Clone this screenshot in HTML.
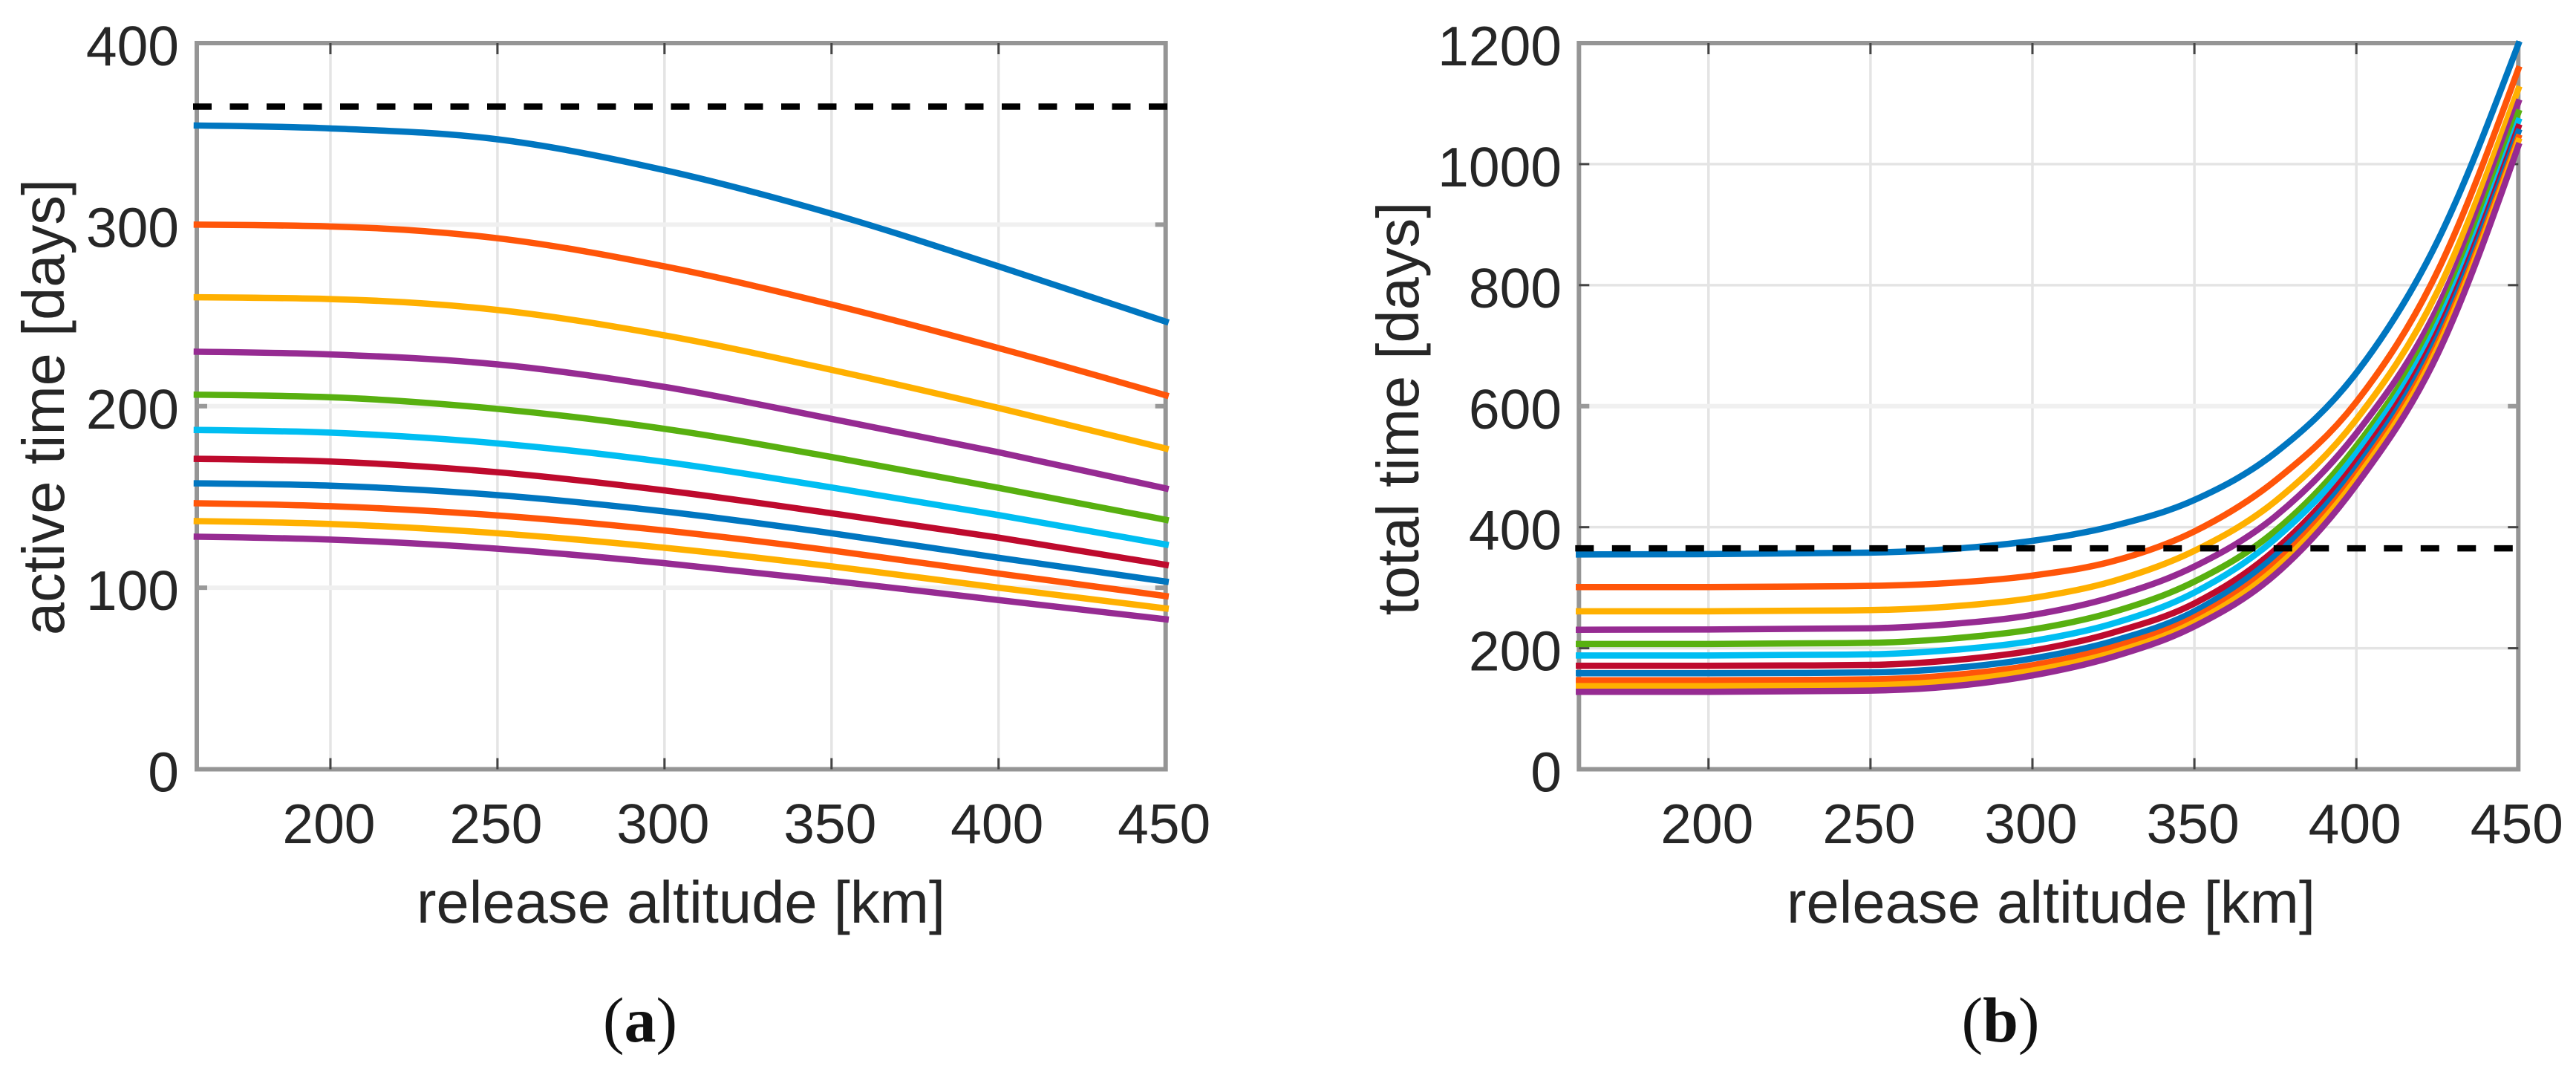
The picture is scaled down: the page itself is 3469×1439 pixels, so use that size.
<!DOCTYPE html>
<html lang="en">
<head>
<meta charset="utf-8">
<title>Active time and total time versus release altitude</title>
<style>
html,body{margin:0;padding:0;background:#fff;}
svg{display:block;}
text{font-family:"Liberation Sans",sans-serif;fill:#262626;}
.tick{font-size:75px;}
.title{font-size:79.5px;}
.cap{font-family:"Liberation Serif",serif;font-size:86px;fill:#111;}
</style>
</head>
<body>
<svg id="figure" xmlns="http://www.w3.org/2000/svg" width="3469" height="1439" viewBox="0 0 3469 1439">
  <rect x="0" y="0" width="3469" height="1439" fill="#ffffff"/>
  <g id="chartA"></g>
  <g id="chartB"></g>
  <text class="title" x="917" y="1242" text-anchor="middle" textLength="712" lengthAdjust="spacingAndGlyphs">release altitude [km]</text>
  <text class="title" x="2762" y="1242" text-anchor="middle" textLength="712" lengthAdjust="spacingAndGlyphs">release altitude [km]</text>
  <text class="title" transform="translate(86 548) rotate(-90)" text-anchor="middle">active time [days]</text>
  <text class="title" transform="translate(1910 550) rotate(-90)" text-anchor="middle">total time [days]</text>
  <text class="cap" x="862" y="1402" text-anchor="middle">(<tspan font-weight="bold">a</tspan>)</text>
  <text class="cap" x="2694" y="1402" text-anchor="middle">(<tspan font-weight="bold">b</tspan>)</text>
</svg>
<script>
// ---- chart (a) data: active time [days] vs release altitude [km] ----
const activeAltitudes = [160, 200, 250, 300, 350, 400, 450];
const activeA1  = [354.6, 353.0, 347.0, 330.0, 306.0, 277.0, 246.6];
const activeA2  = [300.0, 299.0, 292.5, 277.0, 256.0, 232.0, 206.0];
const activeA3  = [260.0, 259.0, 253.0, 239.0, 220.0, 199.0, 176.7];
const activeA4  = [230.0, 228.5, 223.0, 210.6, 193.0, 174.6, 154.7];
const activeA5  = [206.3, 204.9, 198.5, 187.5, 172.0, 155.0, 137.4];
const activeA6  = [186.9, 185.4, 179.5, 169.3, 155.2, 140.0, 123.8];
const activeA7  = [171.0, 169.5, 163.6, 153.6, 141.0, 127.6, 112.6];
const activeA8  = [157.5, 156.2, 151.0, 142.0, 130.0, 116.5, 103.4];
const activeA9  = [146.5, 144.9, 139.8, 131.5, 120.5, 107.8, 95.4];
const activeA10 = [136.7, 135.1, 130.0, 122.0, 111.8, 100.0, 88.6];
const activeA11 = [128.1, 126.5, 121.5, 113.5, 103.8, 93.2, 82.6];
const activeSeries = [activeA1, activeA2, activeA3, activeA4, activeA5, activeA6, activeA7, activeA8, activeA9, activeA10, activeA11];
const activeXTicks = [200, 250, 300, 350, 400, 450];
const activeYTicks = [0, 100, 200, 300, 400];

// ---- chart (b) data: total time [days] vs release altitude [km] ----
const totalAltitudes = [160, 200, 250, 275, 300, 325, 350, 375, 400, 425, 450];
const totalB1  = [355, 355.5, 358, 364, 377.5, 402, 445, 523, 655, 872, 1198];
const totalB2  = [301, 301, 303, 308, 320, 344, 393, 477, 607, 822, 1157];
const totalB3  = [261, 261, 263, 269, 283, 311, 361, 443, 578, 789, 1124];
const totalB4  = [230.5, 231, 233, 240, 255, 285, 335, 418, 555, 762, 1102];
const totalB5  = [207, 207, 209, 216, 231, 260, 310, 394, 534, 745, 1085];
const totalB6  = [188, 188, 190, 197, 212, 241, 292, 381, 522, 734, 1071];
const totalB7  = [171, 171, 172.5, 180, 196, 226, 274, 363, 508, 722, 1061];
const totalB8  = [158.7, 158.7, 160, 167, 183, 212, 261, 353, 498, 713, 1053];
const totalB9  = [147, 147, 148.5, 155.5, 172, 202, 251, 341, 488, 703, 1044];
const totalB10 = [137.4, 137.4, 139, 146, 163, 193, 243, 332, 480, 695, 1038];
const totalB11 = [128, 128, 130, 137, 155, 186, 236, 322, 470, 685, 1030];
const totalSeries = [totalB1, totalB2, totalB3, totalB4, totalB5, totalB6, totalB7, totalB8, totalB9, totalB10, totalB11];
const totalXTicks = [200, 250, 300, 350, 400, 450];
const totalYTicks = [0, 200, 400, 600, 800, 1000, 1200];

// shared reference line: one year
const referenceDays = [365];
const seriesColors = ['#0076C0', '#FF5509', '#FFB000', '#962B92', '#58B010', '#00BEF2', '#BE0A2D', '#0076C0', '#FF5509', '#FFB000', '#962B92'];

const NS = 'http://www.w3.org/2000/svg';
function mk(parent, tag, attrs) {
  const el = document.createElementNS(NS, tag);
  for (const k in attrs) el.setAttribute(k, attrs[k]);
  parent.appendChild(el);
  return el;
}
function scale(d0, d1, r0, r1) {
  return function (v) { return r0 + (v - d0) * (r1 - r0) / (d1 - d0); };
}
// monotone cubic path through the given pixel points
function monotonePath(xs, ys) {
  const n = xs.length, h = [], s = [], t = [];
  for (let i = 0; i < n - 1; i++) { h[i] = xs[i + 1] - xs[i]; s[i] = (ys[i + 1] - ys[i]) / h[i]; }
  for (let i = 1; i < n - 1; i++) {
    const p = (s[i - 1] * h[i] + s[i] * h[i - 1]) / (h[i - 1] + h[i]);
    t[i] = (Math.sign(s[i - 1]) + Math.sign(s[i])) * Math.min(Math.abs(s[i - 1]), Math.abs(s[i]), 0.5 * Math.abs(p)) || 0;
  }
  t[0] = (3 * s[0] - t[1]) / 2;
  t[n - 1] = (3 * s[n - 2] - t[n - 2]) / 2;
  let d = 'M' + xs[0].toFixed(2) + ' ' + ys[0].toFixed(2);
  for (let i = 0; i < n - 1; i++) {
    const dx = h[i] / 3;
    d += 'C' + (xs[i] + dx).toFixed(2) + ' ' + (ys[i] + dx * t[i]).toFixed(2) + ' ' +
         (xs[i + 1] - dx).toFixed(2) + ' ' + (ys[i + 1] - dx * t[i + 1]).toFixed(2) + ' ' +
         xs[i + 1].toFixed(2) + ' ' + ys[i + 1].toFixed(2);
  }
  return d;
}

function drawChart(root, prefix, left, right, yMax, altitudes, series, xTicks, yTicks, thickY, labelX) {
  const top = 58, bottom = 1035.5;
  const x = scale(160, 450, left, right);
  const y = scale(0, yMax, bottom, top);

  // gridlines
  xTicks.forEach(function (t) {
    if (t === 450) return;
    const el = mk(root, 'line', {x1: x(t), x2: x(t), y1: top, y2: bottom, stroke: '#e4e4e4', 'stroke-width': 3.5});
    
    
  });
  yTicks.forEach(function (t) {
    if (t === 0 || t === yMax) return;
    const thick = thickY.indexOf(t) >= 0;
    const el = mk(root, 'line', {x1: left, x2: right, y1: y(t), y2: y(t), stroke: thick ? '#f0f0f0' : '#e4e4e4', 'stroke-width': thick ? 6 : 3.5});
    
    
  });

  // box
  const box = mk(root, 'rect', {x: left, y: top, width: right - left, height: bottom - top, fill: 'none', stroke: '#959595', 'stroke-width': 6});
  
  

  // tick marks
  xTicks.forEach(function (t) {
    if (t === 450) return;
    [[top, top + 15], [bottom - 15, bottom]].forEach(function (p) {
      const el = mk(root, 'line', {x1: x(t), x2: x(t), y1: p[0], y2: p[1], stroke: '#444', 'stroke-width': 3});
      
      
    });
  });
  yTicks.forEach(function (t) {
    if (t === 0 || t === yMax) return;
    const thick = thickY.indexOf(t) >= 0;
    [[left, left + 14], [right - 14, right]].forEach(function (p) {
      const el = mk(root, 'line', {x1: p[0], x2: p[1], y1: y(t), y2: y(t), stroke: thick ? '#999' : '#444', 'stroke-width': thick ? 6 : 3});
      
      
    });
  });

  // tick labels
  xTicks.forEach(function (t) {
    const el = mk(root, 'text', {x: x(t) - 2, y: 1135, 'text-anchor': 'middle', 'class': 'tick'});
    el.textContent = String(t);
    
    
  });
  yTicks.forEach(function (t) {
    const el = mk(root, 'text', {x: labelX, y: y(t) + 30, 'text-anchor': 'end', 'class': 'tick'});
    el.textContent = String(t);
    
    
  });

  // reference line
  const ref = mk(root, 'line', {x1: left - 5, x2: right + 3, y1: y(referenceDays[0]), y2: y(referenceDays[0]), stroke: '#000', 'stroke-width': 8.5, 'stroke-dasharray': '25 24.5'});

  // series
  const xs = altitudes.map(x);
  series.forEach(function (vals, i) {
    const el = mk(root, 'path', {d: monotonePath(xs, vals.map(y)), fill: 'none', stroke: seriesColors[i], 'stroke-width': 8.5, 'stroke-linecap': 'square', 'stroke-linejoin': 'round'});
    
    
  });
  
  
  if (prefix === 'total') root.appendChild(ref);
}

drawChart(document.getElementById('chartA'), 'active', 265, 1569.7, 400, activeAltitudes, activeSeries, activeXTicks, activeYTicks, [100, 200, 300], 241);
drawChart(document.getElementById('chartB'), 'total', 2126.3, 3391.3, 1200, totalAltitudes, totalSeries, totalXTicks, totalYTicks, [600], 2103);
</script>
</body>
</html>
